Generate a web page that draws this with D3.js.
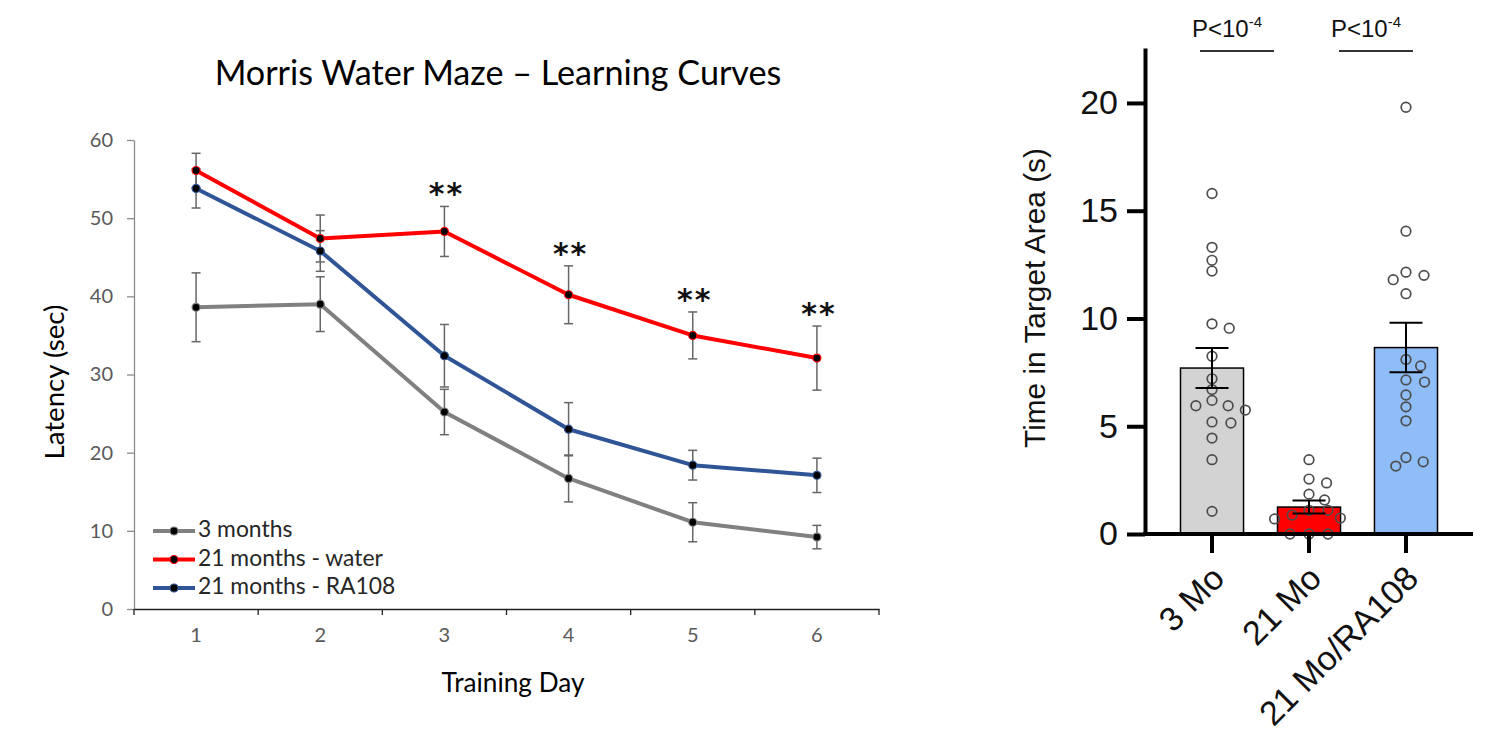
<!DOCTYPE html>
<html>
<head>
<meta charset="utf-8">
<script src="https://cdn.jsdelivr.net/npm/d3@7"></script>
<style>
  html, body { margin: 0; padding: 0; background: #fff; }
  svg { display: block; }
</style>
</head>
<body>
<svg id="chart" width="1487" height="744"></svg>
<script>
// ---- left panel: learning curves ----
const days = [1, 2, 3, 4, 5, 6]
const seriesNames = ['3 months', '21 months - water', '21 months - RA108']
const young      = [38.6, 39.0, 25.2, 16.7, 11.1, 9.2]
const youngErr   = [4.4, 3.5, 2.9, 3.0, 2.5, 1.5]
const oldWater   = [56.1, 47.4, 48.3, 40.2, 35.0, 32.1]
const oldWaterErr= [2.2, 3.0, 3.2, 3.7, 3.0, 4.1]
const oldRA      = [53.8, 45.8, 32.4, 23.0, 18.4, 17.1]
const oldRAErr   = [2.5, 2.6, 4.0, 3.4, 1.9, 2.2]
const sigDays    = [3, 4, 5, 6]
const latencyTicks = [0, 10, 20, 30, 40, 50, 60]

// ---- right panel: probe trial ----
const groups     = ['3 Mo', '21 Mo', '21 Mo/RA108']
const groupMeans = [7.7, 1.25, 8.65]
const groupSem   = [0.93, 0.3, 1.15]
const ptsYoung   = [15.8, 13.3, 12.7, 12.2, 9.75, 9.55, 8.25, 7.2, 6.7, 6.2, 5.95, 5.95, 5.75, 5.2, 5.15, 4.45, 3.45, 1.05]
const ptsOld     = [3.45, 2.55, 2.37, 1.85, 1.58, 1.1, 1.1, 0.88, 0.74, 0.7, 0, 0, 0]
const ptsRA      = [19.8, 14.05, 12.15, 12.0, 11.8, 11.15, 8.1, 7.8, 7.15, 7.05, 6.45, 5.9, 5.25, 3.55, 3.35, 3.15]
const timeTicks  = [0, 5, 10, 15, 20]
const pText      = ['P<10', 'P<10']
const pExp       = '-4'

const svg = d3.select('#chart')
const leftFont  = "Lato, 'Open Sans', sans-serif"
const rightFont = "'Liberation Sans', Arial, sans-serif"

// shrink/grow a text so it spans a given width
function fit(sel, w) {
  const len = sel.node().getComputedTextLength()
  const fs  = parseFloat(sel.attr('font-size'))
  sel.attr('font-size', fs * w / len)
  return fs * w / len
}

// ================= LEFT =================
const x = d3.scaleBand().domain(days).range([134, 879])
const y = d3.scaleLinear().domain([0, 60]).range([609, 140])

const series = [
  { name: seriesNames[0], vals: young,    err: youngErr,    color: '#808080' },
  { name: seriesNames[1], vals: oldWater, err: oldWaterErr, color: '#ff0000' },
  { name: seriesNames[2], vals: oldRA,    err: oldRAErr,    color: '#2f5597' }
]

const title = svg.append('text')
  .attr('x', 498).attr('y', 85)
  .attr('text-anchor', 'middle')
  .attr('font-family', leftFont)
  .attr('font-size', 26)
  .attr('fill', '#000')
  .text('Morris Water Maze \u2013 Learning Curves')
fit(title, 567)

// y axis
const yAxis = svg.append('g')
  .attr('transform', 'translate(134,0)')
  .call(d3.axisLeft(y).tickValues(latencyTicks).tickSize(7).tickPadding(14).tickSizeOuter(0))
yAxis.select('.domain').attr('stroke', '#8c8c8c').attr('stroke-width', 1.3)
yAxis.selectAll('.tick line').attr('stroke', '#8c8c8c').attr('stroke-width', 1.3)
yAxis.selectAll('.tick text')
  .attr('font-family', leftFont).attr('font-size', 20).attr('fill', '#595959')

// x axis: line, boundary ticks, centred labels
const xAxis = svg.append('g').attr('transform', 'translate(0,609)')
  .call(d3.axisBottom(x).tickSize(0).tickPadding(19))
xAxis.select('.domain').attr('stroke', '#222').attr('stroke-width', 1.3)
xAxis.selectAll('.tick text')
  .attr('font-family', leftFont).attr('font-size', 20).attr('fill', '#595959')
const bounds = days.map(d => x(d)).concat([x(days[days.length - 1]) + x.step()])
xAxis.selectAll('.bound').data(bounds).enter().append('line')
  .attr('x1', d => d).attr('x2', d => d)
  .attr('y1', 0).attr('y2', 6)
  .attr('stroke', '#222').attr('stroke-width', 1.3)

const xLab = svg.append('text')
  .attr('x', 513).attr('y', 692)
  .attr('text-anchor', 'middle')
  .attr('font-family', leftFont).attr('font-size', 19).attr('fill', '#000')
  .text('Training Day')
fit(xLab, 143)

const yLab = svg.append('text')
  .attr('transform', 'translate(64,382) rotate(-90)')
  .attr('text-anchor', 'middle')
  .attr('font-family', leftFont).attr('font-size', 19).attr('fill', '#000')
  .text('Latency (sec)')
fit(yLab, 155)

const cx = d => x(d) + x.bandwidth() / 2

// error bars
series.forEach(s => {
  const g = svg.append('g').attr('stroke', '#666').attr('stroke-width', 1.5)
  days.forEach((d, i) => {
    const top = y(s.vals[i] + s.err[i]), bot = y(s.vals[i] - s.err[i])
    g.append('line').attr('x1', cx(d)).attr('x2', cx(d)).attr('y1', top).attr('y2', bot)
    g.append('line').attr('x1', cx(d) - 4.5).attr('x2', cx(d) + 4.5).attr('y1', top).attr('y2', top)
    g.append('line').attr('x1', cx(d) - 4.5).attr('x2', cx(d) + 4.5).attr('y1', bot).attr('y2', bot)
  })
})

// lines + markers
const line = d3.line().x((v, i) => cx(days[i])).y(v => y(v))
series.forEach(s => {
  svg.append('path')
    .attr('d', line(s.vals))
    .attr('fill', 'none')
    .attr('stroke', s.color)
    .attr('stroke-width', 4)
    .attr('stroke-linejoin', 'round')
  svg.append('g').selectAll('circle').data(s.vals).enter().append('circle')
    .attr('cx', (v, i) => cx(days[i]))
    .attr('cy', v => y(v))
    .attr('r', 4)
    .attr('fill', '#000')
    .attr('stroke', s.color)
    .attr('stroke-width', 1.2)
})

// significance stars above the water group
svg.append('g').selectAll('text').data(sigDays).enter().append('text')
  .attr('x', d => cx(d) + 2)
  .attr('y', d => {
    const i = days.indexOf(d)
    return y(oldWater[i] + oldWaterErr[i]) - 2
  })
  .attr('text-anchor', 'middle')
  .attr('font-family', "'DejaVu Sans', sans-serif")
  .attr('font-weight', 'bold')
  .attr('font-size', 30)
  .attr('letter-spacing', 2)
  .attr('fill', '#111')
  .text('**')

// legend
const leg = svg.append('g')
series.forEach((s, i) => {
  const ly = 531 + i * 28.5
  leg.append('line').attr('x1', 153).attr('x2', 195).attr('y1', ly).attr('y2', ly)
    .attr('stroke', s.color).attr('stroke-width', 4)
  leg.append('circle').attr('cx', 174).attr('cy', ly).attr('r', 4)
    .attr('fill', '#000').attr('stroke', s.color).attr('stroke-width', 1.2)
  leg.append('text').attr('class', 'legtxt')
    .attr('x', 198).attr('y', ly + 6)
    .attr('font-family', leftFont).attr('font-size', 17).attr('fill', '#262626')
    .text(s.name)
})
const legSize = fit(leg.selectAll('.legtxt').filter((d, i) => i === 1), 185)
leg.selectAll('.legtxt').attr('font-size', legSize)

// ================= RIGHT =================
const xb = d3.scaleBand().domain(groups).range([1145, 1473]).paddingInner(0.35).paddingOuter(0.366)
const yb = d3.scaleLinear().domain([0, 22.55]).range([534, 48])
const barColors = ['#d3d3d3', '#ff0000', '#8fbdf7']
const pts = [ptsYoung, ptsOld, ptsRA]

// bars
svg.append('g').selectAll('rect').data(groups).enter().append('rect')
  .attr('x', d => xb(d))
  .attr('y', (d, i) => yb(groupMeans[i]))
  .attr('width', xb.bandwidth())
  .attr('height', (d, i) => yb(0) - yb(groupMeans[i]))
  .attr('fill', (d, i) => barColors[i])
  .attr('stroke', '#000')
  .attr('stroke-width', 1.5)

// simple beeswarm: place each dot as close to the centre as it can go
function swarm(vals, centre) {
  const rx = 19, ry = 10.2
  const placed = []
  vals.slice().sort((a, b) => b - a).forEach(v => {
    const py = yb(v)
    const blocks = []
    placed.forEach(p => {
      const dy = Math.abs(p.y - py)
      if (dy < ry) {
        const half = rx * Math.sqrt(1 - (dy / ry) ** 2)
        blocks.push([p.x - half, p.x + half])
      }
    })
    const cands = [0]
    blocks.forEach(b => { cands.push(b[0], b[1]) })
    cands.sort((a, b) => Math.abs(a) - Math.abs(b) || b - a)
    const ok = cands.find(c => blocks.every(b => c <= b[0] + 1e-6 || c >= b[1] - 1e-6))
    placed.push({ x: ok, y: py })
  })
  return placed.map(p => ({ x: centre + p.x, y: p.y }))
}

groups.forEach((gname, gi) => {
  const c = xb(gname) + xb.bandwidth() / 2
  svg.append('g').selectAll('circle').data(swarm(pts[gi], c)).enter().append('circle')
    .attr('cx', d => d.x).attr('cy', d => d.y)
    .attr('r', 4.8)
    .attr('fill', 'none')
    .attr('stroke', '#4d4d4d')
    .attr('stroke-width', 1.7)
})

// SEM bars
groups.forEach((gname, gi) => {
  const c = xb(gname) + xb.bandwidth() / 2
  const top = yb(groupMeans[gi] + groupSem[gi]), bot = yb(groupMeans[gi] - groupSem[gi])
  const g = svg.append('g').attr('stroke', '#000').attr('stroke-width', 2)
  g.append('line').attr('x1', c).attr('x2', c).attr('y1', top).attr('y2', bot)
  g.append('line').attr('x1', c - 16.5).attr('x2', c + 16.5).attr('y1', top).attr('y2', top)
  g.append('line').attr('x1', c - 16.5).attr('x2', c + 16.5).attr('y1', bot).attr('y2', bot)
})

// axes
const ybAxis = svg.append('g').attr('transform', 'translate(1145,0)')
  .call(d3.axisLeft(yb).tickValues(timeTicks).tickSize(18).tickPadding(9).tickSizeOuter(0))
ybAxis.select('.domain').attr('stroke', '#000').attr('stroke-width', 4)
ybAxis.selectAll('.tick line').attr('stroke', '#000').attr('stroke-width', 4)
ybAxis.selectAll('.tick text')
  .attr('font-family', rightFont).attr('font-size', 34).attr('fill', '#111')

const xbAxis = svg.append('g').attr('transform', 'translate(0,534)')
  .call(d3.axisBottom(xb).tickSize(19).tickSizeOuter(0))
xbAxis.select('.domain').attr('stroke', '#000').attr('stroke-width', 4)
  .attr('d', 'M1143,0H1473')
xbAxis.selectAll('.tick line').attr('stroke', '#000').attr('stroke-width', 4)
xbAxis.selectAll('.tick text')
  .attr('font-family', rightFont).attr('font-size', 34).attr('fill', '#111')
  .attr('text-anchor', 'end')
  .attr('transform', 'translate(6,38) rotate(-45)')
  .attr('y', 0).attr('dy', '0.35em')

const ybLab = svg.append('text')
  .attr('transform', 'translate(1045,298) rotate(-90)')
  .attr('text-anchor', 'middle')
  .attr('font-family', rightFont).attr('font-size', 28).attr('fill', '#111')
  .text('Time in Target Area (s)')
fit(ybLab, 300)

// p-value annotations
const pCentres = [xb(groups[0]) + xb.bandwidth() / 2 + 25, xb(groups[2]) + xb.bandwidth() / 2 - 30]
pCentres.forEach((pc, i) => {
  const t = svg.append('text')
    .attr('x', pc - 10).attr('y', 37)
    .attr('text-anchor', 'middle')
    .attr('font-family', rightFont).attr('font-size', 24).attr('fill', '#111')
  t.append('tspan').text(pText[i])
  t.append('tspan').attr('font-size', 15).attr('dy', -10).text(pExp)
  svg.append('line')
    .attr('x1', pc - 37).attr('x2', pc + 37)
    .attr('y1', 51).attr('y2', 51)
    .attr('stroke', '#333').attr('stroke-width', 2)
})
</script>
</body>
</html>
